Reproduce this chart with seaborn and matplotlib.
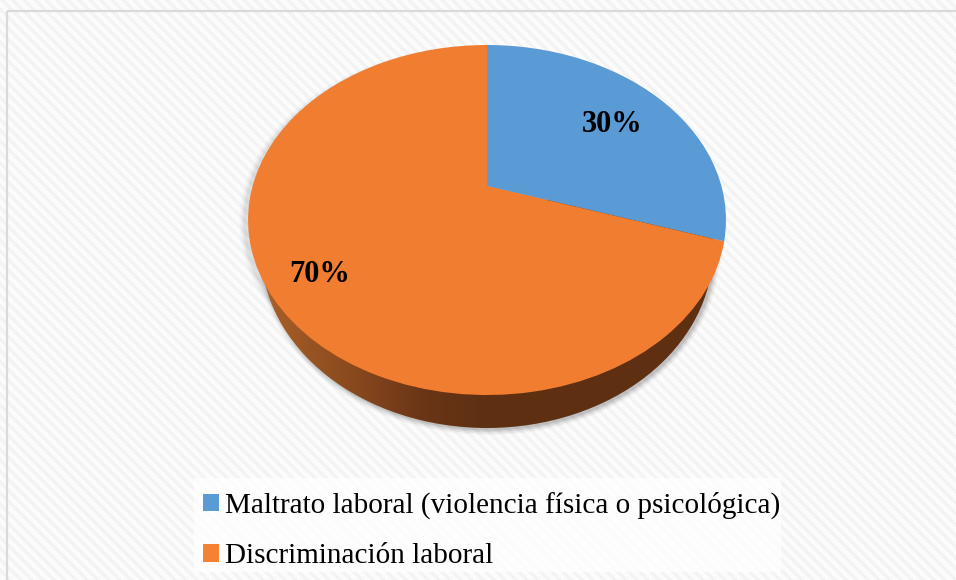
import numpy as np
import seaborn as sns
import matplotlib
matplotlib.use("Agg")
from matplotlib import pyplot as plt
from matplotlib.patches import Ellipse, Rectangle
from matplotlib.transforms import Transform

labels = ["Maltrato laboral (violencia física o psicológica)", "Discriminación laboral"]
values = [30, 70]
colors = ["#5B9BD5", "#F07D30"]
swatches = ["#5B9BD5", "#F58233"]
label_pos = [(612, 124), (320, 275)]

sns.set_theme(style="white")
plt.rcParams["font.family"] = ["Liberation Serif", "DejaVu Serif"]


# tilted disc: unit circle to screen pixels, centre of the pie ends up above the ellipse centre
class Tilt(Transform):
    input_dims = 2
    output_dims = 2
    is_separable = False
    has_inverse = False

    def transform_non_affine(self, xy):
        xy = np.asarray(xy, dtype=float)
        d = 1 + 0.1943 * xy[:, 1]
        return np.column_stack([487 + 234.4 * xy[:, 0] / d,
                                220 - (175 * xy[:, 1] + 34) / d])


fig = plt.figure(figsize=(9.56, 5.8), dpi=100)
ax = fig.add_axes([0, 0, 1, 1])

# hatched backdrop
yy, xx = np.mgrid[0:580, 0:956]
bg = 0.99 - 0.03 * (((xx - yy) % 11) < 5) - 0.012 * (((xx + yy) % 4) < 2)
ax.imshow(bg, cmap="gray", vmin=0, vmax=1, extent=(0, 956, 580, 0), aspect="auto", zorder=0,
          interpolation="nearest")
ax.add_patch(Rectangle((7, 11), 1000, 700, fc="none", ec="#DADADA", lw=1.6, zorder=0.2))
ax.add_patch(Rectangle((194, 478), 587, 94, fc="white", ec="none", alpha=0.75, zorder=0.25))

# soft shadow under the disc, pushed down and right
for grow, alpha in [(5, 0.03), (3.5, 0.05), (2, 0.07), (0.5, 0.09)]:
    ax.add_patch(Ellipse((489, 252), 2 * (226 + grow), 2 * (178 + grow), fc="black", ec="none",
                         alpha=alpha, zorder=0.3))
    ax.add_patch(Ellipse((483, 222), 2 * (239 + grow), 2 * (172 + grow), fc="black", ec="none",
                         alpha=alpha * 0.5, zorder=0.3))

# rim, shaded on its left side only
rim_x = [255, 275, 350, 420, 480, 720]
rim_rgb = np.array([[0.73, 0.42, 0.17], [0.65, 0.36, 0.15], [0.54, 0.29, 0.12], [0.42, 0.21, 0.09],
                    [0.37, 0.19, 0.07], [0.37, 0.19, 0.07]])
xs = np.arange(255, 721)
grad = np.column_stack([np.interp(xs, rim_x, rim_rgb[:, i]) for i in range(3)])[None, :, :]
rim = ax.imshow(grad, extent=(255, 721, 430, 200), aspect="auto", zorder=0.5)
rim_shape = Ellipse((487, 250), 2 * 226, 2 * 178, transform=ax.transData, fc="none", ec="none")
ax.add_patch(rim_shape)
rim.set_clip_path(rim_shape)

wedges, _, pcts = ax.pie(values, colors=colors, startangle=90, counterclock=False, autopct="%d%%",
                         wedgeprops=dict(linewidth=0),
                         textprops=dict(fontsize=22, fontweight="bold", color="black"))
ax.set_aspect("auto")
ax.set(xlim=(0, 956), ylim=(580, 0))
tilt = Tilt()
for w in wedges:
    w.set_transform(tilt + ax.transData)
    w.set_zorder(1)
for t, pos in zip(pcts, label_pos):
    t.set_position(pos)
    t.set_zorder(3)

handles = [Rectangle((0, 0), 1, 1, fc=c, ec="none") for c in swatches]
ax.legend(handles, labels, loc="upper left", bbox_to_anchor=(203 / 956, 1 - 492 / 580), fontsize=21,
          frameon=False, handlelength=0.55, handleheight=0.55, handletextpad=0.2, labelspacing=0.82,
          borderpad=0, borderaxespad=0, labelcolor="black")
ax.set_axis_off()
fig.savefig("out.png", dpi=100)
